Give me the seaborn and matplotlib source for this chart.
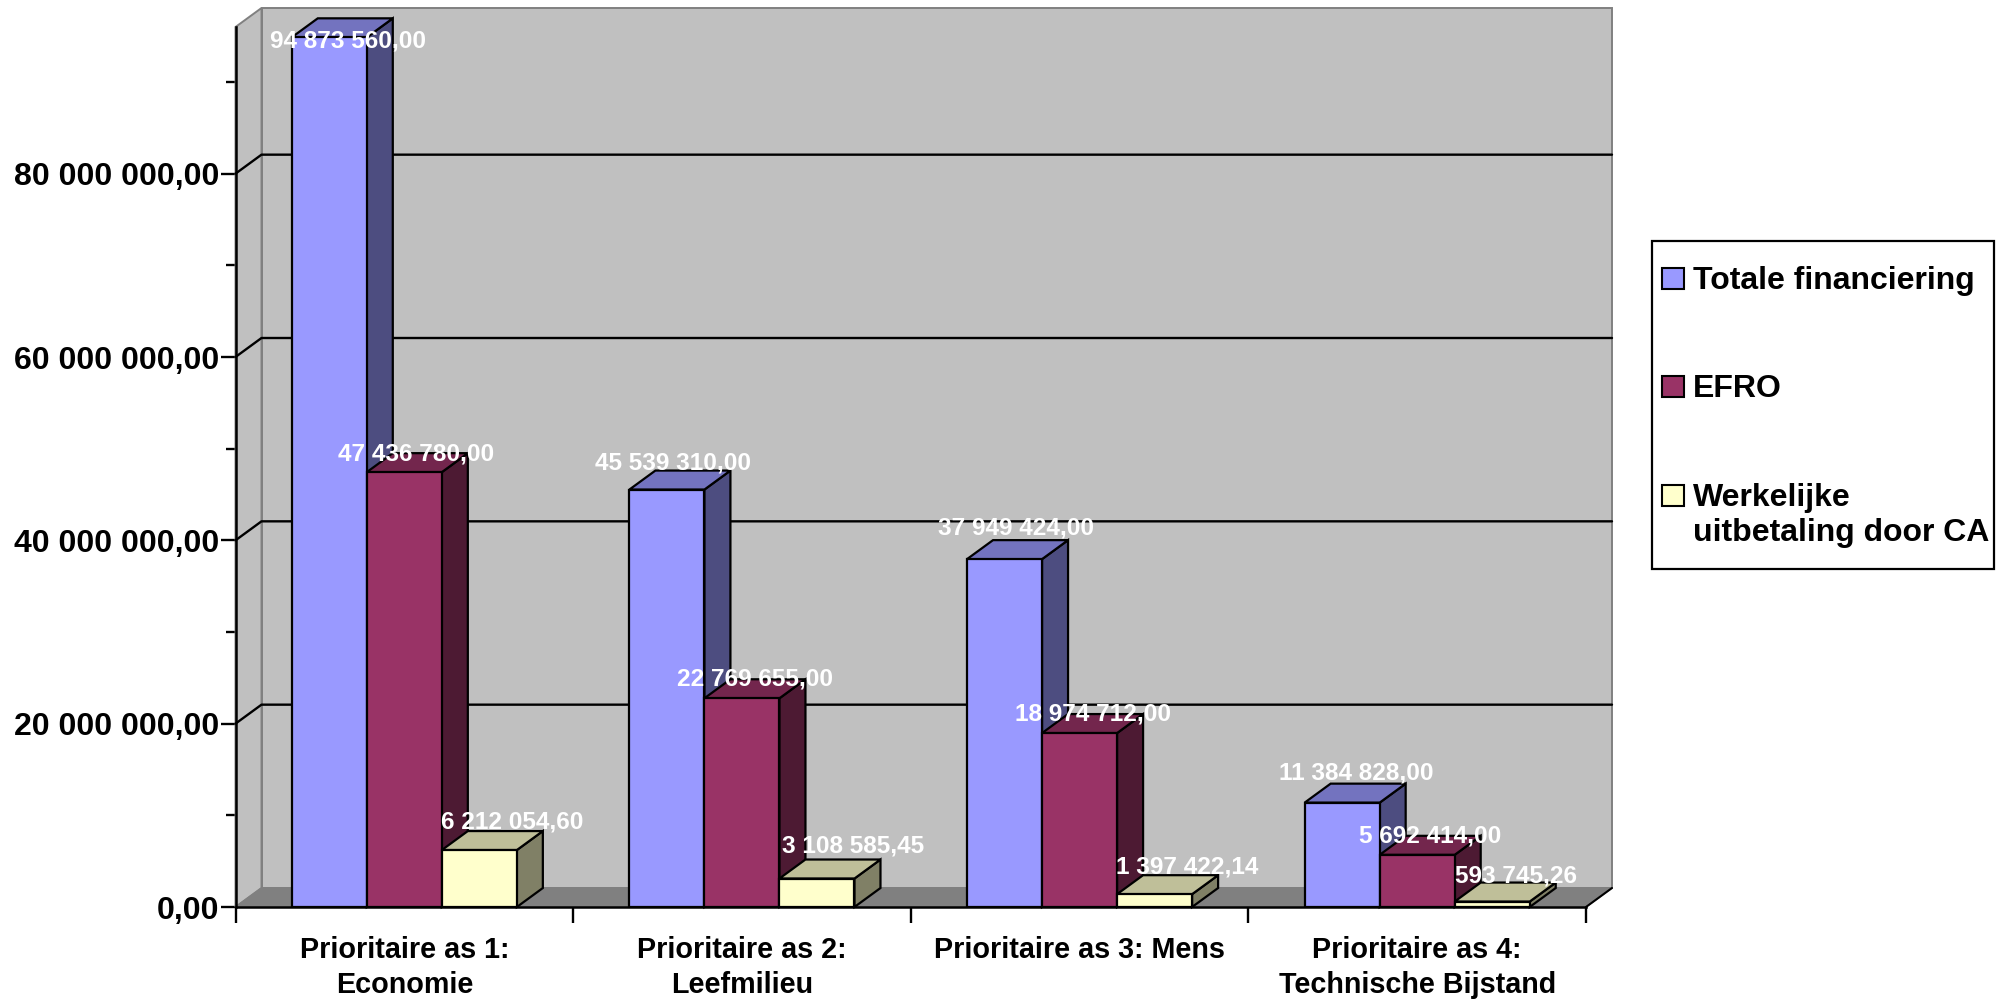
import matplotlib
matplotlib.use('Agg')
import numpy as np
import pandas as pd
import matplotlib.pyplot as plt
from matplotlib.patches import Polygon, Rectangle
from matplotlib.ticker import FixedLocator, FuncFormatter
from matplotlib.colors import to_rgb
import seaborn as sns

categories = ['Prioritaire as 1:\nEconomie', 'Prioritaire as 2:\nLeefmilieu',
              'Prioritaire as 3: Mens', 'Prioritaire as 4:\nTechnische Bijstand']
series_names = ['Totale financiering', 'EFRO', 'Werkelijke\nuitbetaling door CA']
totale = [94873560.00, 45539310.00, 37949424.00, 11384828.00]
efro = [47436780.00, 22769655.00, 18974712.00, 5692414.00]
werkelijk = [6212054.60, 3108585.45, 1397422.14, 593745.26]
colors = ['#9999FF', '#993366', '#FFFFCC']

sns.set_theme(style='white')
plt.rcParams['font.family'] = ['Liberation Sans', 'DejaVu Sans']
plt.rcParams['font.weight'] = 'bold'

df = pd.DataFrame({
    'category': categories * 3,
    'series': np.repeat(series_names, 4),
    'value': totale + efro + werkelijk,
})


def nl_number(v, pos=None):
    return f'{v:,.2f}'.replace(',', ' ').replace('.', ',')


fig = plt.figure(figsize=(20.09, 10), dpi=100)
ax = fig.add_axes([235.5 / 2009, 93 / 1000, 1350.5 / 2009, 880 / 1000])
ax.patch.set_visible(False)

sns.barplot(data=df, x='category', y='value', hue='series', hue_order=series_names,
            palette=colors, width=2 / 3, saturation=1, edgecolor='black', linewidth=1.6,
            legend=False, ax=ax)

xmin, xmax, ymax = -0.5, 3.5, 96e6
ax.set_xlim(xmin, xmax)
ax.set_ylim(0, ymax)
ax.set_xlabel('')
ax.set_ylabel('')

# depth of the fake 3D box, 26 x 19 px
dx = 26 / (1350.5 / 4)
dy = 19 / (880 / ymax)

# walls and floor
ax.add_patch(Polygon([(xmin + dx, dy), (xmax + dx, dy), (xmax + dx, ymax + dy), (xmin + dx, ymax + dy)],
                     fc='#C0C0C0', ec='#808080', lw=1.4, clip_on=False, zorder=0.5))
ax.add_patch(Polygon([(xmin, 0), (xmin + dx, dy), (xmin + dx, ymax + dy), (xmin, ymax)],
                     fc='#C0C0C0', ec='#808080', lw=1.4, clip_on=False, zorder=0.6))
ax.add_patch(Polygon([(xmin, 0), (xmax, 0), (xmax + dx, dy), (xmin + dx, dy)],
                     fc='#808080', ec='#808080', lw=1, clip_on=False, zorder=0.7))
ax.plot([xmax, xmax + dx], [0, dy], color='black', lw=1.5, clip_on=False, zorder=0.8)

for v in [20e6, 40e6, 60e6, 80e6]:
    ax.plot([xmin, xmin + dx, xmax + dx], [v, v + dy, v + dy], color='black', lw=1.7,
            clip_on=False, zorder=1)

# sides and tops of the bars, left to right so neighbours overlap properly
# label shift in px from the front top centre of each bar
label_shift = [[(19, -4), (6, 27), (11, 31), (14, 30)],
               [(12, 18), (13, 19), (13, 19), (13, 19)],
               [(33, 28), (36, 33), (33, 27), (24, 26)]]
for s, container in enumerate(ax.containers):
    rgb = np.array(to_rgb(colors[s]))
    for c, bar in enumerate(container):
        x0, x1 = bar.get_x(), bar.get_x() + bar.get_width()
        h = bar.get_height()
        z = 3 + c + s * 0.1
        bar.set_zorder(z + 0.02)
        bar.set_joinstyle('miter')
        ax.add_patch(Polygon([(x1, 0), (x1 + dx, dy), (x1 + dx, h + dy), (x1, h)], fc=rgb * 0.5,
                             ec='black', lw=1.6, clip_on=False, zorder=z))
        ax.add_patch(Polygon([(x0, h), (x1, h), (x1 + dx, h + dy), (x0 + dx, h + dy)], fc=rgb * 0.75,
                             ec='black', lw=1.6, clip_on=False, zorder=z + 0.01))
        ax.annotate(nl_number(h), xy=((x0 + x1) / 2, h), xytext=label_shift[s][c],
                    textcoords='offset pixels', ha='center', va='center', color='white',
                    fontsize=17.6, fontweight='bold', zorder=20, annotation_clip=False)

# axes lines and ticks
sns.despine(ax=ax, top=True, right=True)
for side in ['left', 'bottom']:
    ax.spines[side].set_color('black')
    ax.spines[side].set_linewidth(1.8)
    ax.spines[side].set_zorder(2.5)
ax.yaxis.set_major_locator(FixedLocator([0, 20e6, 40e6, 60e6, 80e6]))
ax.yaxis.set_minor_locator(FixedLocator([10e6, 30e6, 50e6, 70e6, 90e6]))
ax.yaxis.set_major_formatter(FuncFormatter(nl_number))
ax.xaxis.set_minor_locator(FixedLocator([-0.5, 0.5, 1.5, 2.5, 3.5]))
ax.tick_params(axis='y', which='major', left=True, length=10.8, width=1.7, color='black', labelsize=23, pad=1)
ax.tick_params(axis='y', which='minor', left=True, length=7.2, width=1.7, color='black')
ax.tick_params(axis='x', which='major', bottom=False, labelsize=20.7, pad=14.6)
ax.tick_params(axis='x', which='minor', bottom=True, length=11.5, width=1.7, color='black')
for label in ax.get_xticklabels() + ax.get_yticklabels():
    label.set_fontweight('bold')
    label.set_color('black')
for label in ax.get_xticklabels():
    label.set_linespacing(1.35)
    label.set_verticalalignment('top')

# legend box, placed by hand because the swatches sit on the first line
fig.add_artist(Rectangle((1652 / 2009, 1 - 569 / 1000), 342 / 2009, 328 / 1000, transform=fig.transFigure,
                         fc='white', ec='black', lw=1.6))
for name, col, yc in zip(series_names, colors, [278, 386, 495]):
    fig.add_artist(Rectangle((1662 / 2009, 1 - (yc + 11) / 1000), 22 / 2009, 21 / 1000,
                             transform=fig.transFigure, fc=col, ec='black', lw=1.5))
    fig.text(1693 / 2009, 1 - (yc - 12) / 1000, name, ha='left', va='top', fontsize=23,
             fontweight='bold', color='black', linespacing=1.2)

fig.savefig('out.png', dpi=100, facecolor='white')
